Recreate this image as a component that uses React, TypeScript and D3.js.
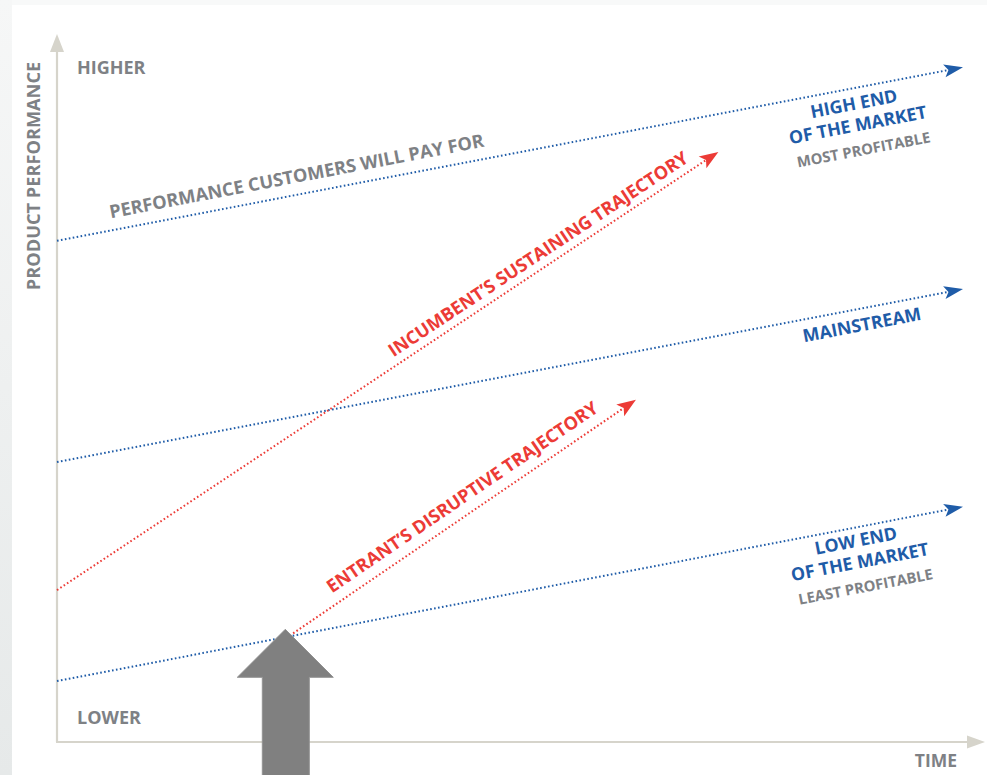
import React from "react";
import * as d3 from "d3";

// ---- Data (conceptual units: time 0-100, performance 0-100) ----
const marketNames = ["HIGH END|OF THE MARKET", "MAINSTREAM", "LOW END|OF THE MARKET"];
const marketNotes = ["MOST PROFITABLE", "", "LEAST PROFITABLE"];
const marketStart = [71.6, 40.0, 8.7];
const marketEnd = [96.4, 64.7, 33.6];

const trajectoryNames = ["INCUMBENT\u2019S SUSTAINING TRAJECTORY", "ENTRANT\u2019S DISRUPTIVE TRAJECTORY"];
const trajectoryStartX = [0, 25.7];
const trajectoryStartY = [21.7, 15.2];
const trajectoryEndX = [73.0, 63.9];
const trajectoryEndY = [84.3, 48.9];

const entryPointX = 25.2;
const entryPointY = 16.1;

const W = 987;
const H = 775;

const BLUE = "#1f5ca8";
const RED = "#ec3b36";
const GRAY = "#7e8185";
const AXIS = "#d6d4cb";
const FONT = "'Open Sans', Roboto, 'DejaVu Sans', sans-serif";

export default function App() {
  const x = d3.scaleLinear().domain([0, 100]).range([57, 963]);
  const y = d3.scaleLinear().domain([0, 100]).range([742, 42]);

  const arrowHead = (x1: number, y1: number, x2: number, y2: number, len: number, half: number, color: string, key: string) => {
    const a = Math.atan2(y2 - y1, x2 - x1);
    const c = Math.cos(a), s = Math.sin(a);
    const bx = x2 - c * len, by = y2 - s * len;
    const nx = x2 - c * len * 0.78, ny = y2 - s * len * 0.78;
    const p = [
      [x2, y2],
      [bx - s * half, by + c * half],
      [nx, ny],
      [bx + s * half, by - c * half],
    ];
    return <path key={key} d={"M" + p.map((q) => q.join(",")).join("L") + "Z"} fill={color} />;
  };

  const dotted = (x1: number, y1: number, x2: number, y2: number, color: string, key: string, len: number, half: number) => {
    const a = Math.atan2(y2 - y1, x2 - x1);
    const ex = x2 - Math.cos(a) * len * 0.8, ey = y2 - Math.sin(a) * len * 0.8;
    return (
      <g key={key}>
        <line x1={x1} y1={y1} x2={ex} y2={ey} stroke={color} strokeWidth={2} strokeDasharray="1.6 2.4" />
        {arrowHead(x1, y1, x2, y2, len, half, color, key + "h")}
      </g>
    );
  };

  const angleOf = (x1: number, y1: number, x2: number, y2: number) => (Math.atan2(y2 - y1, x2 - x1) * 180) / Math.PI;

  // label placement along a line: screen x, perpendicular offset (px, above line)
  const along = (x1: number, y1: number, x2: number, y2: number, px: number, off: number) => {
    const a = Math.atan2(y2 - y1, x2 - x1);
    const c = Math.cos(a), s = Math.sin(a);
    const py = y1 + ((px - x1) / (x2 - x1)) * (y2 - y1);
    return { x: px + s * off, y: py - c * off, deg: (a * 180) / Math.PI };
  };

  const topAng = angleOf(x(0), y(marketStart[0]), x(100), y(marketEnd[0]));
  const topLbl = along(x(0), y(marketStart[0]), x(100), y(marketEnd[0]), 113, 12);

  const marketLabelPos = [
    { x: 859, y: 131 },
    { x: 863, y: 331 },
    { x: 861, y: 568 },
  ];
  const trajLabelX = [546, 472];
  const trajLabelOff = [8, 11];

  const gx = x(entryPointX), gy = y(entryPointY);

  return (
    <svg width={W} height={H} style={{ position: "absolute", left: 0, top: 0 }} fontFamily={FONT}>
      <defs>
        <linearGradient id="lg" x1="0" y1="0" x2="0" y2="1">
          <stop offset="0" stopColor="#f6f7f7" />
          <stop offset="1" stopColor="#e6e9e9" />
        </linearGradient>
      </defs>
      <rect x={0} y={0} width={W} height={H} fill="#f8f9f9" />
      <rect x={0} y={0} width={12} height={H} fill="url(#lg)" />
      <rect x={12} y={5} width={W - 12} height={H - 5} fill="#ffffff" />

      {/* axes */}
      <line x1={x(0)} y1={y(0)} x2={x(0)} y2={50} stroke={AXIS} strokeWidth={2.2} />
      <path d={`M${x(0)},34L${x(0) - 7},52L${x(0) + 7},52Z`} fill={AXIS} />
      <line x1={x(0) - 1} y1={y(0)} x2={969} y2={y(0)} stroke={AXIS} strokeWidth={2.2} />
      <path d={`M985,${y(0)}L967,${y(0) - 6.5}L967,${y(0) + 6.5}Z`} fill={AXIS} />

      <text x={77} y={74} fontSize={18} fontWeight={700} fill={GRAY}>HIGHER</text>
      <text x={77} y={724} fontSize={18} fontWeight={700} fill={GRAY}>LOWER</text>
      <text x={957} y={767} fontSize={17.5} fontWeight={700} fill={GRAY} textAnchor="end">TIME</text>
      <text transform={`translate(40,176) rotate(-90)`} fontSize={18.2} fontWeight={700} fill={GRAY} textAnchor="middle">PRODUCT PERFORMANCE</text>

      {/* market lines */}
      {marketStart.map((v, i) => dotted(x(0), y(v), x(100), y(marketEnd[i]), BLUE, "m" + i, 19, 6.5))}

      {/* trajectories */}
      {trajectoryStartX.map((v, i) =>
        dotted(x(v), y(trajectoryStartY[i]), x(trajectoryEndX[i]), y(trajectoryEndY[i]), RED, "t" + i, 19, 7)
      )}

      <text transform={`translate(${topLbl.x},${topLbl.y}) rotate(${topLbl.deg})`} fontSize={18.2} fontWeight={700} fill={GRAY}>
        PERFORMANCE CUSTOMERS WILL PAY FOR
      </text>

      {trajectoryNames.map((n, i) => {
        const p = along(x(trajectoryStartX[i]), y(trajectoryStartY[i]), x(trajectoryEndX[i]), y(trajectoryEndY[i]), trajLabelX[i], trajLabelOff[i]);
        return (
          <text key={n} transform={`translate(${p.x},${p.y}) rotate(${p.deg})`} fontSize={18.1} fontWeight={700} fill={RED} textAnchor="middle">
            {n}
          </text>
        );
      })}

      {marketNames.map((n, i) => {
        const lines = n.split("|");
        const pos = marketLabelPos[i];
        const ys = lines.length === 2 ? [-21.5, 0] : [0];
        return (
          <g key={n} transform={`translate(${pos.x},${pos.y}) rotate(${topAng})`} textAnchor="middle" fontWeight={700}>
            {lines.map((l, j) => (
              <text key={l} x={0} y={ys[j]} fontSize={17.8} fill={BLUE}>{l}</text>
            ))}
            {marketNotes[i] && (
              <text x={1} y={24.5} fontSize={14.8} fill={GRAY}>{marketNotes[i]}</text>
            )}
          </g>
        );
      })}

      {/* entry arrow */}
      <path
        d={`M${gx},${gy}L${gx + 48},${gy + 48}L${gx + 24},${gy + 48}L${gx + 24},${H + 5}L${gx - 23},${H + 5}L${gx - 23},${gy + 48}L${gx - 48},${gy + 48}Z`}
        fill="#808080"
        stroke="#939393"
        strokeWidth={1}
      />
    </svg>
  );
}
